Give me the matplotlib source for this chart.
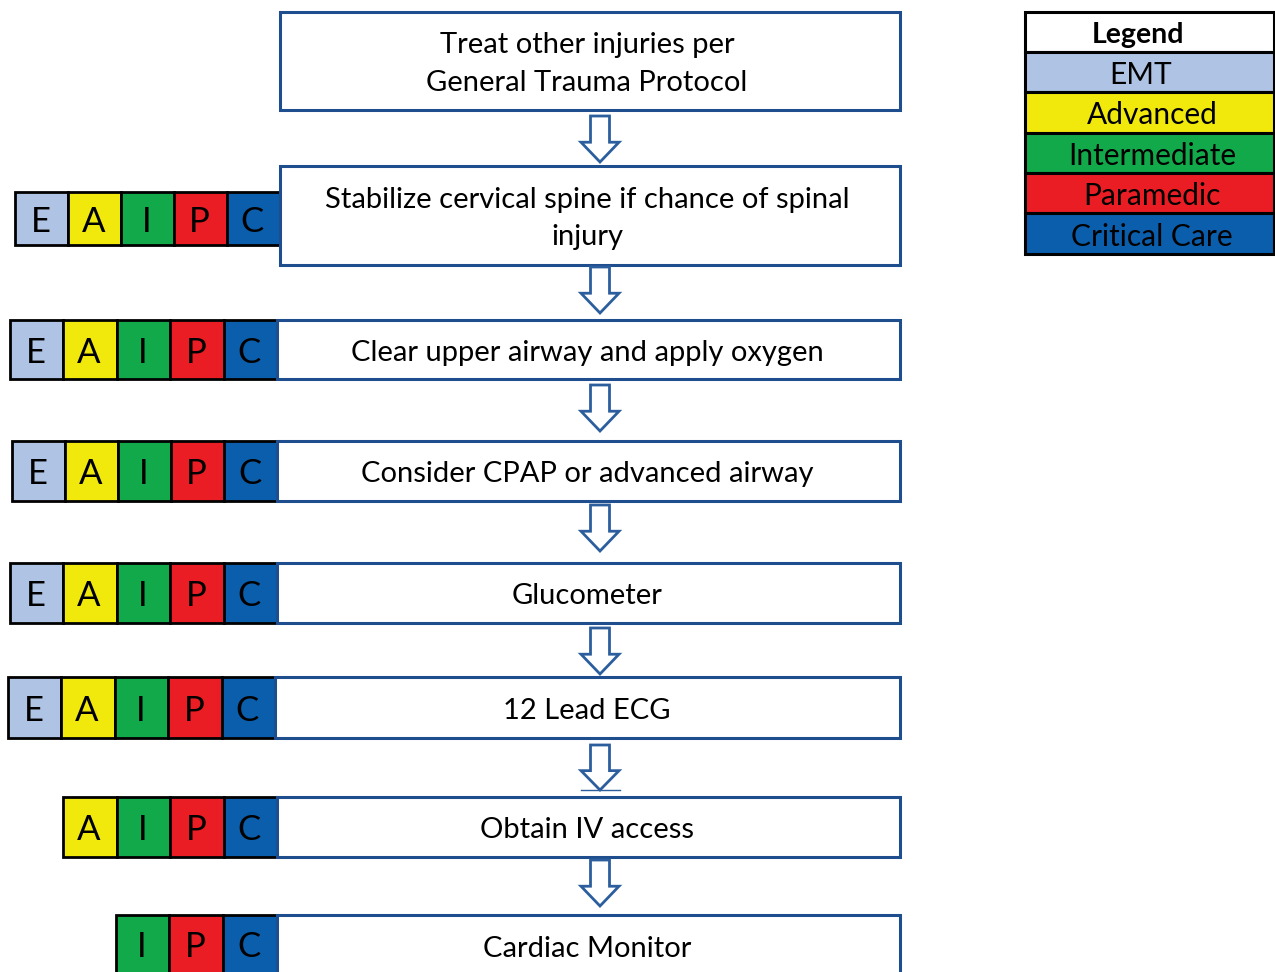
import matplotlib
matplotlib.use("Agg")
import matplotlib.pyplot as plt
from matplotlib.patches import Rectangle, Polygon

plt.rcParams['font.family'] = ['Lato', 'DejaVu Sans']

# ---- data ----
steps = [
    "Treat other injuries per\nGeneral Trauma Protocol",
    "Stabilize cervical spine if chance of spinal\ninjury",
    "Clear upper airway and apply oxygen",
    "Consider CPAP or advanced airway",
    "Glucometer",
    "12 Lead ECG",
    "Obtain IV access",
    "Cardiac Monitor",
]
step_levels = [
    "",
    "EAIPC",
    "EAIPC",
    "EAIPC",
    "EAIPC",
    "EAIPC",
    "AIPC",
    "IPC",
]
legend_title = "Legend"
legend_labels = ["EMT", "Advanced", "Intermediate", "Paramedic", "Critical Care"]
level_letters = ["E", "A", "I", "P", "C"]
level_colors = ["#AFC3E4", "#F1E90C", "#12A94B", "#EB1D24", "#0B5EAC"]

# ---- layout ----
W, H = 1275, 972
fig = plt.figure(figsize=(W / 100, H / 100), dpi=100)
ax = fig.add_axes([0, 0, 1, 1])
ax.set_xlim(0, W)
ax.set_ylim(H, 0)
ax.axis("off")

box_color = "#1F4E8F"
arrow_color = "#2C5E9E"

# box geometry: (left, top, bottom)
boxes = [(280, 12, 110), (280, 166, 265), (277, 320, 379), (277, 441, 501),
         (277, 563, 623), (275, 677, 738), (277, 797, 857), (277, 915, 985)]
badge_geom = [None, (15, 192, 245), (10, 320, 379), (12, 441, 501),
              (10, 563, 623), (8, 677, 738), (10, 797, 857), (8, 915, 985)]
box_right = 900
dy = 3

for i, (txt, lv) in enumerate(zip(steps, step_levels)):
    l, t, b = boxes[i]
    ax.add_patch(Rectangle((l, t), box_right - l, b - t, facecolor="white",
                           edgecolor=box_color, lw=2.2, zorder=2))
    cy = (t + b) / 2 if i < 7 else 946
    ax.text(587, cy + dy, txt, ha="center", va="center",
            fontsize=21, linespacing=1.55, zorder=3)
    if lv:
        x0, bt, bb = badge_geom[i]
        right = l
        n = len(lv)
        w = (right - x0) / 5.0
        start = right - n * w
        for k, ch in enumerate(lv):
            idx = level_letters.index(ch)
            xx = start + k * w
            ax.add_patch(Rectangle((xx, bt), w, bb - bt, facecolor=level_colors[idx],
                                   edgecolor="black", lw=2.0, zorder=1))
            ax.text(xx + w / 2 - 1, min((bt + bb) / 2, 944) + dy, ch, ha="center",
                    va="center", fontsize=25, color="black", zorder=3)

# arrows between boxes
arrows = [(116, 162), (267, 313), (385, 431), (505, 551), (628, 674), (745, 790), (860, 906)]
cx = 600
for (ta, tb) in arrows:
    h = tb - ta
    head = ta + h * 0.57
    pts = [(cx - 9.5, ta), (cx + 9.5, ta), (cx + 9.5, head), (cx + 19, head),
           (cx, tb), (cx - 19, head), (cx - 9.5, head)]
    ax.add_patch(Polygon(pts, closed=True, facecolor="white", edgecolor=arrow_color,
                         lw=2.0, joinstyle="miter", zorder=3))
ax.plot([581, 620], [790, 790], color=arrow_color, lw=1.0, zorder=3)

# legend
lx0, lx1 = 1025, 1274
rows = [12, 52, 92, 133, 173, 213, 254]
ax.add_patch(Rectangle((lx0, rows[0]), lx1 - lx0, rows[1] - rows[0], facecolor="white",
                       edgecolor="black", lw=2.2, zorder=2))
ax.text(1138, (rows[0] + rows[1]) / 2 + dy, legend_title, ha="center", va="center",
        fontsize=20.5, fontweight="bold", zorder=3)
for k, lab in enumerate(legend_labels):
    t, b = rows[k + 1], rows[k + 2]
    ax.add_patch(Rectangle((lx0, t), lx1 - lx0, b - t, facecolor=level_colors[k],
                           edgecolor="black", lw=2.2, zorder=2))
    ax.text(1152 if k else 1141, (t + b) / 2 + dy, lab, ha="center", va="center",
            fontsize=21.5, zorder=3)

fig.savefig("out.png", dpi=100)
